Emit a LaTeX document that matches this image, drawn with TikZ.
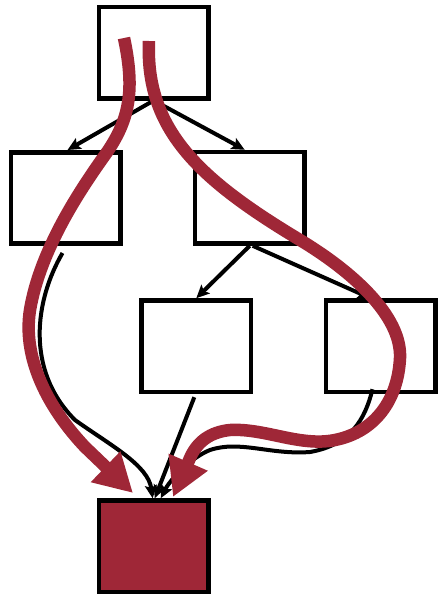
\documentclass[tikz,border=0pt]{standalone}
\usetikzlibrary{arrows.meta}
\definecolor{dred}{RGB}{159,39,55}
\begin{document}
\begin{tikzpicture}[x=1pt,y=-1pt,
  box/.style={draw=black,line width=4.6pt,minimum width=109.4pt,minimum height=91.4pt,inner sep=0pt},
  dep/.style={draw=black,line width=4pt,-{Stealth[length=13pt,width=12pt,inset=2.5pt]}},
  flow/.style={draw=dred,line width=12.5pt,-{Triangle[length=38pt,width=40pt]}}]
\useasboundingbox (0,0) rectangle (439,595);
\node[box] (top) at (153.7,52.5) {};
\node[box] (A) at (65.5,198) {};
\node[box] (B) at (249.7,197.8) {};
\node[box] (C) at (196.3,346.2) {};
\node[box] (D) at (380.5,346.2) {};
\node[box,fill=dred] (E) at (153.7,546.3) {};
\coordinate (r1) at (124,38);
\coordinate (r2) at (149,41);
% black dependency edges
\draw[dep] (top.south) -- ([xshift=2pt]A.north);
\draw[dep] (top.south) -- ([xshift=-5pt]B.north);
\draw[dep] (B.south) -- (C.north);
\draw[dep] ([xshift=3pt]B.south) -- ([xshift=-10pt]D.north);
\draw[dep] ([xshift=-3pt,yshift=-7pt]A.south) .. controls (35,300) and (25,370) .. (75,420) .. controls (110,445) and (148,465) .. ([xshift=-1pt]E.north);
\draw[dep] ([xshift=-2pt,yshift=-3pt]C.south) -- ([xshift=1pt]E.north);
\draw[dep] ([xshift=-8pt,yshift=5pt]D.south) .. controls (365,420) and (350,445) .. (310,452) .. controls (270,455) and (240,440) .. (210,450) .. controls (190,458) and (170,480) .. ([xshift=7pt]E.north);
% red flows
\draw[flow] (r1) .. controls (135,90) and (130,120) .. (105,155) .. controls (80,190) and (40,250) .. (30,310) .. controls (22,360) and (50,410) .. (85,447) -- (133,493);
\draw[flow] (r2) .. controls (145,130) and (200,180) .. (300,240) .. controls (350,270) and (402,315) .. (400,358) .. controls (398,400) and (375,432) .. (335,440) .. controls (300,447) and (265,428) .. (230,430) .. controls (210,432) and (197,442) .. (190,458) -- (173,497);
\end{tikzpicture}
\end{document}
